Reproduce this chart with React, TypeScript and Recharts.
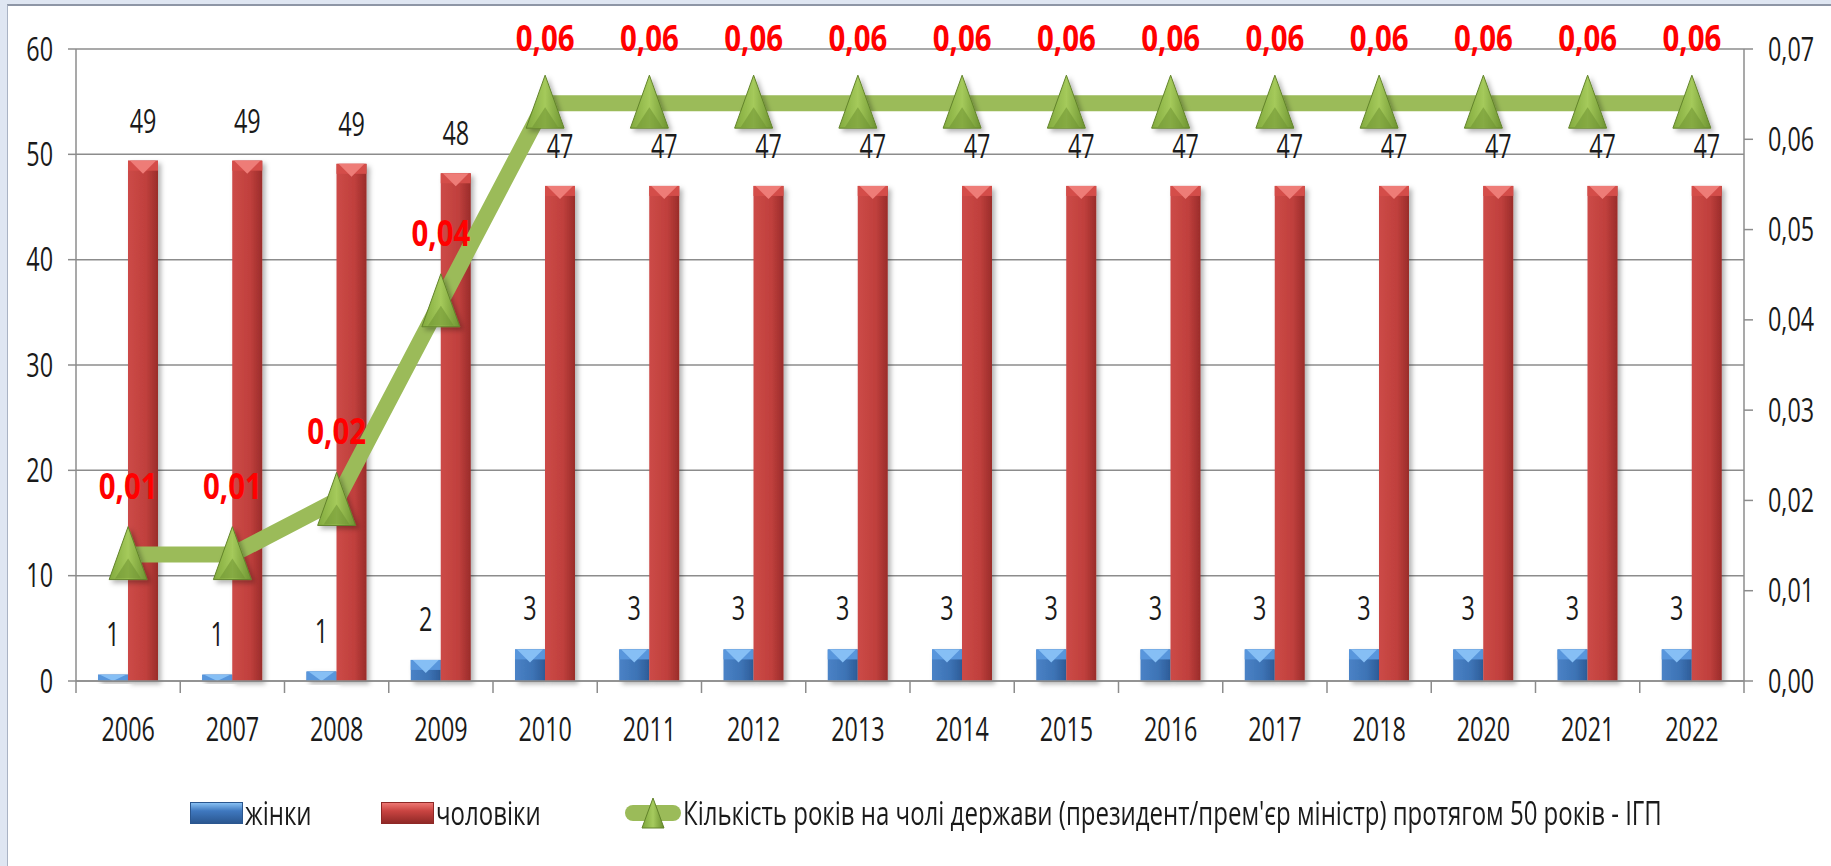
import React from 'react';
import { ComposedChart, Bar, Line, XAxis, YAxis, CartesianGrid, LabelList, Legend } from 'recharts';

const years = ['2006', '2007', '2008', '2009', '2010', '2011', '2012', '2013', '2014', '2015', '2016', '2017', '2018', '2020', '2021', '2022'];
const women = [0.6, 0.6, 0.9, 2, 3, 3, 3, 3, 3, 3, 3, 3, 3, 3, 3, 3];
const men = [49.4, 49.4, 49.1, 48.2, 47, 47, 47, 47, 47, 47, 47, 47, 47, 47, 47, 47];
const igp = [0.014, 0.014, 0.02, 0.042, 0.064, 0.064, 0.064, 0.064, 0.064, 0.064, 0.064, 0.064, 0.064, 0.064, 0.064, 0.064];
const leftTicks = [0, 10, 20, 30, 40, 50, 60];
const rightTicks = [0, 0.01, 0.02, 0.03, 0.04, 0.05, 0.06, 0.07];
const nameWomen = 'жінки';
const nameMen = 'чоловіки';
const nameIgp = "Кількість років на чолі держави (президент/прем'єр міністр) протягом 50 років - ІГП";

const data = years.map((y, i) => ({ year: y, women: women[i], men: men[i], igp: igp[i] }));

const FONT = "'Open Sans', 'Noto Sans', 'DejaVu Sans', sans-serif";
const FS = 32;
const SX = 0.73;
const AXIS = '#8c8c8c';
const TXT = '#1a1a1a';

const fmt2 = (v: number) => v.toFixed(2).replace('.', ',');

const SText = ({ x, y, anchor, children, size = FS, sx = SX, fill = TXT, weight = 'normal', dy = 0 }: any) => (
  <g transform={`translate(${x},${y})`}>
    <text transform={`scale(${sx},1)`} x={0} y={0} dy={dy} textAnchor={anchor} fontFamily={FONT} fontSize={size} fontWeight={weight} fill={fill}>
      {children}
    </text>
  </g>
);

const BevelBar = (kind: 'red' | 'blue') => (props: any) => {
  const { x, y, width, height } = props;
  if (!height || height <= 0) return null;
  const depth = Math.min(13, height);
  const light = kind === 'red' ? '#ee7b77' : '#86bff5';
  const band = kind === 'red' ? '#d44e4a' : '#5896dc';
  const bandH = Math.min(10, height);
  return (
    <g filter="url(#shadow)">
      <rect x={x} y={y} width={width} height={height} fill={`url(#${kind}Body)`} />
      <rect x={x} y={y} width={width} height={bandH} fill={band} />
      <polygon points={`${x + 2},${y} ${x + width - 2},${y} ${x + width / 2},${y + depth}`} fill={light} />
    </g>
  );
};

const Triangle = (props: any) => {
  const { cx, cy, index } = props;
  if (cx == null || cy == null) return null;
  return (
    <g key={`tri-${index}`} filter="url(#shadow)">
      <polygon points={`${cx},${cy - 28} ${cx - 19},${cy + 25} ${cx + 19},${cy + 25}`} fill="url(#triFill)" stroke="#62832a" strokeWidth={1} />
      <polygon points={`${cx},${cy + 4} ${cx - 13},${cy + 24} ${cx + 13},${cy + 24}`} fill="#6d9131" opacity={0.55} />
    </g>
  );
};

const RedLabel = (props: any) => {
  const { x, y, value } = props;
  const base = Math.max(y - 56, 51);
  return (
    <SText x={x} y={base} anchor="middle" size={35} sx={0.84} weight="bold" fill="#ff0000">
      {fmt2(Math.round(value * 100) / 100)}
    </SText>
  );
};

const BarLabel = (off: number) => (props: any) => {
  const vb = props.viewBox && props.viewBox.width != null ? props.viewBox : props;
  const { x, y, width } = vb;
  return (
    <SText x={x + width / 2} y={y - off} anchor="middle">
      {Math.round(Number(props.value))}
    </SText>
  );
};

const XTick = (props: any) => {
  const { x, y, payload, index, visibleTicksCount, width } = props;
  const half = payload && payload.offset ? payload.offset : width / visibleTicksCount / 2;
  return (
    <g>
      <line x1={x - half} x2={x - half} y1={y} y2={y + 12} stroke={AXIS} strokeWidth={1.5} />
      {index === visibleTicksCount - 1 && (
        <line x1={x + half} x2={x + half} y1={y} y2={y + 12} stroke={AXIS} strokeWidth={1.5} />
      )}
      <SText x={x} y={y + 60} anchor="middle">{payload.value}</SText>
    </g>
  );
};

const YTickL = (props: any) => {
  const { x, y, payload } = props;
  return <SText x={x} y={y} anchor="end" dy="0.36em">{payload.value}</SText>;
};

const YTickR = (props: any) => {
  const { x, y, payload } = props;
  return <SText x={x} y={y} anchor="start" dy="0.36em">{fmt2(payload.value)}</SText>;
};

const BarIcon = ({ kind }: { kind: 'red' | 'blue' }) => {
  const top = kind === 'red' ? '#f07a76' : '#8cc4f6';
  const mid = kind === 'red' ? '#c94441' : '#3f78bf';
  const bot = kind === 'red' ? '#8e2826' : '#2a568f';
  return (
    <svg width={53} height={22} style={{ display: 'block' }}>
      <defs>
        <linearGradient id={`lg-${kind}`} x1="0" y1="0" x2="0" y2="1">
          <stop offset="0" stopColor={top} />
          <stop offset="0.4" stopColor={mid} />
          <stop offset="1" stopColor={bot} />
        </linearGradient>
      </defs>
      <rect x={0.5} y={0.5} width={52} height={21} fill={`url(#lg-${kind})`} stroke={bot} strokeWidth={1} />
    </svg>
  );
};

const LineIcon = () => (
  <svg width={56} height={34} style={{ display: 'block' }}>
    <defs>
      <linearGradient id="lg-tri" x1="0" y1="0" x2="1" y2="0">
        <stop offset="0" stopColor="#7ea63b" />
        <stop offset="0.5" stopColor="#a6cb5e" />
        <stop offset="1" stopColor="#6a8f2e" />
      </linearGradient>
    </defs>
    <line x1={8} x2={48} y1={17} y2={17} stroke="#9bbb59" strokeWidth={16} strokeLinecap="round" />
    <polygon points="28,2 17,32 39,32" fill="url(#lg-tri)" stroke="#62832a" strokeWidth={1} />
  </svg>
);

const LSX = 0.75;

const LegendContent = () => {
  const item = (left: number, icon: React.ReactNode, label: string) => (
    <div style={{ position: 'absolute', left, top: 0, height: 66, display: 'flex', alignItems: 'center', whiteSpace: 'nowrap' }}>
      {icon}
      <span style={{ marginLeft: 2, fontFamily: FONT, fontSize: FS, color: TXT, lineHeight: '66px', display: 'inline-block', transform: `scaleX(${LSX})`, transformOrigin: 'left center' }}>{label}</span>
    </div>
  );
  return (
    <div style={{ position: 'relative', height: 66, width: 1831 }}>
      {item(190, <BarIcon kind="blue" />, nameWomen)}
      {item(381, <BarIcon kind="red" />, nameMen)}
      {item(625, <LineIcon />, nameIgp)}
    </div>
  );
};

export default function App() {
  return (
    <div style={{ position: 'absolute', left: 0, top: 0, width: 1831, height: 866, background: '#dfe6f2', overflow: 'hidden' }}>
      <div style={{ position: 'absolute', left: 7, top: 4, right: 0, bottom: 0, background: '#ffffff', borderTop: '2px solid #8e96a6', borderLeft: '1px solid #aab3c4' }} />
      <div style={{ position: 'absolute', left: 0, top: 0 }}>
        <ComposedChart width={1831} height={866} data={data} margin={{ top: 49, right: 0, bottom: 20, left: 0 }} barGap={0}>
          <defs>
            <linearGradient id="redBody" x1="0" y1="0" x2="1" y2="0">
              <stop offset="0" stopColor="#cc4a47" />
              <stop offset="0.6" stopColor="#c0403d" />
              <stop offset="1" stopColor="#9a2c2a" />
            </linearGradient>
            <linearGradient id="blueBody" x1="0" y1="0" x2="1" y2="0">
              <stop offset="0" stopColor="#4a82c6" />
              <stop offset="0.6" stopColor="#3d73b5" />
              <stop offset="1" stopColor="#2d5c98" />
            </linearGradient>
            <linearGradient id="triFill" x1="0" y1="0" x2="1" y2="0">
              <stop offset="0" stopColor="#82aa3e" />
              <stop offset="0.5" stopColor="#a5ca5b" />
              <stop offset="1" stopColor="#6c9230" />
            </linearGradient>
            <filter id="shadow" x="-30%" y="-30%" width="170%" height="170%">
              <feDropShadow dx="3" dy="3" stdDeviation="2.5" floodColor="#000" floodOpacity="0.3" />
            </filter>
          </defs>
          <CartesianGrid yAxisId="left" vertical={false} stroke={AXIS} strokeWidth={1.5} />
          <XAxis
            dataKey="year"
            height={99}
            tickSize={0}
            tickMargin={0}
            tickLine={false}
            axisLine={{ stroke: AXIS, strokeWidth: 1.5 }}
            tick={<XTick />}
            interval={0}
          />
          <YAxis
            yAxisId="left"
            width={76}
            domain={[0, 60]}
            ticks={leftTicks}
            tickSize={8}
            tickMargin={15}
            axisLine={{ stroke: AXIS, strokeWidth: 1.5 }}
            tickLine={{ stroke: AXIS, strokeWidth: 1.5 }}
            tick={<YTickL />}
          />
          <YAxis
            yAxisId="right"
            orientation="right"
            width={87}
            domain={[0, 0.07]}
            ticks={rightTicks}
            tickSize={9}
            tickMargin={15}
            axisLine={{ stroke: AXIS, strokeWidth: 1.5 }}
            tickLine={{ stroke: AXIS, strokeWidth: 1.5 }}
            tick={<YTickR />}
          />
          <Legend verticalAlign="bottom" content={<LegendContent />} />
          <Bar yAxisId="left" dataKey="women" name={nameWomen} barSize={30} shape={BevelBar('blue')} isAnimationActive={false}>
            <LabelList dataKey="women" content={BarLabel(29)} />
          </Bar>
          <Bar yAxisId="left" dataKey="men" name={nameMen} barSize={30} shape={BevelBar('red')} isAnimationActive={false}>
            <LabelList dataKey="men" content={BarLabel(28)} />
          </Bar>
          <Line
            yAxisId="right"
            dataKey="igp"
            name={nameIgp}
            stroke="#9bbb59"
            strokeWidth={16}
            dot={<Triangle />}
            activeDot={false}
            isAnimationActive={false}
          >
            <LabelList dataKey="igp" content={<RedLabel />} />
          </Line>
        </ComposedChart>
      </div>
    </div>
  );
}
